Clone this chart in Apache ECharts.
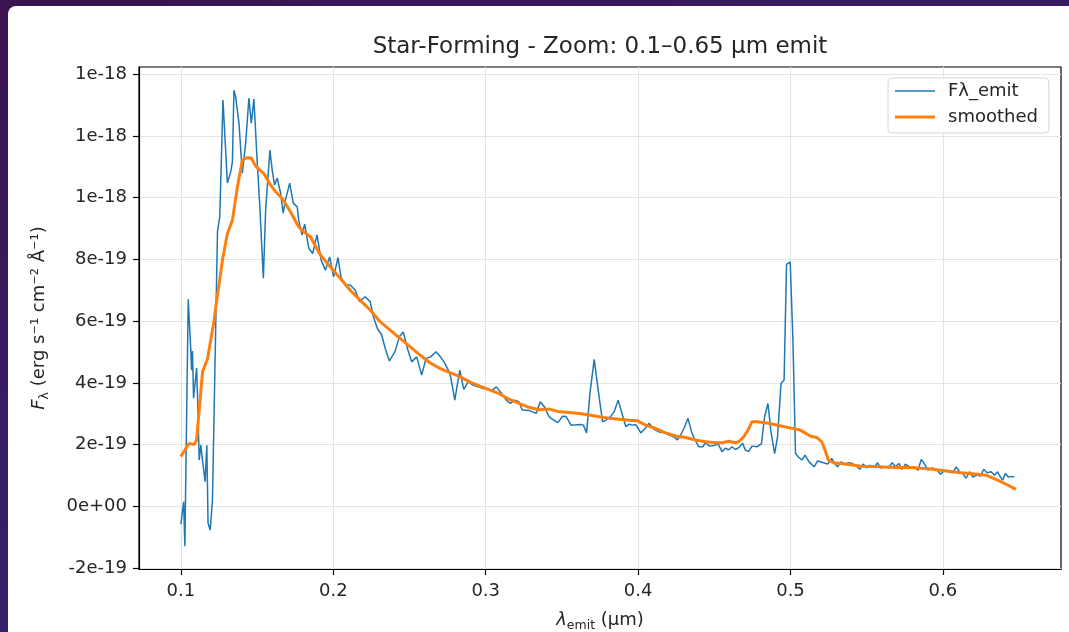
<!DOCTYPE html>
<html>
<head>
<meta charset="utf-8">
<script src="https://cdn.jsdelivr.net/npm/echarts@6/dist/echarts.min.js"></script>
<style>
  html, body { margin: 0; padding: 0; width: 1069px; height: 632px; overflow: hidden; }
  body { background: linear-gradient(160deg, #3b1350 0%, #35206a 55%, #272a70 100%); position: relative; }
  #panel { position: absolute; left: 8px; top: 6px; right: 0; bottom: 0; background: #ffffff; border-top-left-radius: 8px; }
  #chart { position: absolute; left: 0; top: 0; width: 1069px; height: 632px; }
</style>
</head>
<body>
<div id="panel"></div>
<div id="chart"></div>
<script>
// Flux values are in units of 1e-19 erg s^-1 cm^-2 Å^-1
const Y_UNIT = 1e-19;

const lambdaEmit = [
  0.1000, 0.1011, 0.1018, 0.1026, 0.1048, 0.1065, 0.1070, 0.1076, 0.1083, 0.1103,
  0.1109, 0.1120, 0.1131, 0.1142, 0.1159, 0.1170, 0.1178, 0.1192, 0.1207, 0.1240,
  0.1255, 0.1276, 0.1289, 0.1305, 0.1327, 0.1338, 0.1348, 0.1359, 0.1381, 0.1403,
  0.1425, 0.1446, 0.1462, 0.1479, 0.1501, 0.1518, 0.1541, 0.1556, 0.1584, 0.1599,
  0.1614, 0.1632, 0.1654, 0.1671, 0.1686, 0.1714, 0.1737, 0.1763, 0.1773, 0.1795,
  0.1812, 0.1839, 0.1865, 0.1893, 0.1920, 0.1948, 0.1976, 0.2002, 0.2031, 0.2050,
  0.2078, 0.2111, 0.2144, 0.2172, 0.2209, 0.2242, 0.2263, 0.2289, 0.2318, 0.2340,
  0.2368, 0.2405, 0.2433, 0.2459, 0.2486, 0.2514, 0.2547, 0.2580, 0.2608, 0.2639,
  0.2673, 0.2704, 0.2732, 0.2765, 0.2782, 0.2797, 0.2830, 0.2856, 0.2884, 0.2917,
  0.2950, 0.2978, 0.3005, 0.3037, 0.3070, 0.3103, 0.3135, 0.3161, 0.3190, 0.3218,
  0.3240, 0.3288, 0.3331, 0.3358, 0.3386, 0.3414, 0.3429, 0.3473, 0.3505, 0.3527,
  0.3560, 0.3593, 0.3625, 0.3641, 0.3662, 0.3684, 0.3712, 0.3741, 0.3767, 0.3789,
  0.3815, 0.3843, 0.3869, 0.3897, 0.3920, 0.3941, 0.3963, 0.3985, 0.4018, 0.4046,
  0.4072, 0.4105, 0.4137, 0.4170, 0.4203, 0.4235, 0.4257, 0.4279, 0.4301, 0.4327,
  0.4351, 0.4373, 0.4399, 0.4425, 0.4442, 0.4469, 0.4497, 0.4525, 0.4551, 0.4573,
  0.4595, 0.4616, 0.4639, 0.4660, 0.4686, 0.4704, 0.4725, 0.4747, 0.4780, 0.4809,
  0.4830, 0.4852, 0.4872, 0.4896, 0.4915, 0.4938, 0.4958, 0.4974, 0.4998, 0.5016,
  0.5033, 0.5052, 0.5074, 0.5096, 0.5122, 0.5155, 0.5178, 0.5216, 0.5244, 0.5270,
  0.5292, 0.5309, 0.5331, 0.5358, 0.5384, 0.5405, 0.5433, 0.5455, 0.5477, 0.5499,
  0.5521, 0.5549, 0.5571, 0.5593, 0.5619, 0.5645, 0.5667, 0.5689, 0.5711, 0.5732,
  0.5754, 0.5782, 0.5815, 0.5837, 0.5858, 0.5880, 0.5902, 0.5928, 0.5956, 0.5985,
  0.6011, 0.6037, 0.6065, 0.6087, 0.6109, 0.6131, 0.6152, 0.6175, 0.6196, 0.6224,
  0.6246, 0.6268, 0.6290, 0.6316, 0.6338, 0.6359, 0.6377, 0.6392, 0.6410, 0.6429,
  0.6446, 0.6469
];
const fluxEmit = [
  -0.58, -0.60, 0.15, -1.29, 6.71, 5.06, 4.41, 5.03, 3.50, 4.48,
  3.55, 1.50, 1.98, 1.47, 0.80, 1.98, -0.54, -0.77, 0.20, 8.89,
  9.38, 13.16, 13.13, 10.47, 10.84, 11.16, 13.48, 13.27, 12.41, 10.79,
  11.77, 13.22, 12.41, 13.19, 11.12, 9.70, 7.39, 9.60, 11.54, 10.89,
  10.41, 10.63, 10.15, 9.50, 9.92, 10.47, 9.82, 9.70, 9.27, 8.79,
  9.14, 8.36, 8.19, 8.79, 7.98, 7.65, 8.08, 7.43, 8.06, 7.43,
  7.17, 7.17, 7.00, 6.63, 6.79, 6.63, 6.14, 5.76, 5.55, 5.12,
  4.71, 5.01, 5.49, 5.65, 5.12, 4.68, 4.84, 4.25, 4.79, 4.84,
  5.01, 4.84, 4.63, 4.31, 3.87, 3.44, 4.41, 3.79, 4.03, 3.93,
  3.87, 3.82, 3.82, 3.74, 3.87, 3.66, 3.44, 3.33, 3.44, 3.39,
  3.12, 3.10, 3.01, 3.39, 3.22, 2.92, 2.85, 2.71, 2.92, 2.91,
  2.63, 2.64, 2.65, 2.63, 2.38, 3.66, 4.76, 3.66, 2.74, 2.79,
  2.88, 3.06, 3.44, 2.96, 2.58, 2.66, 2.63, 2.65, 2.38, 2.52,
  2.69, 2.49, 2.41, 2.38, 2.31, 2.25, 2.15, 2.31, 2.52, 2.85,
  2.41, 2.15, 1.93, 1.93, 2.06, 1.95, 1.97, 2.02, 1.77, 1.88,
  1.83, 1.93, 1.84, 1.90, 2.04, 1.82, 1.77, 1.95, 1.93, 2.02,
  2.90, 3.33, 2.41, 1.71, 2.25, 3.98, 4.09, 7.84, 7.92, 5.38,
  1.71, 1.60, 1.50, 1.66, 1.44, 1.28, 1.47, 1.41, 1.37, 1.55,
  1.37, 1.28, 1.44, 1.37, 1.41, 1.39, 1.30, 1.20, 1.37, 1.24,
  1.33, 1.26, 1.41, 1.24, 1.28, 1.26, 1.41, 1.28, 1.39, 1.20,
  1.37, 1.28, 1.26, 1.17, 1.52, 1.37, 1.17, 1.24, 1.20, 1.04,
  1.17, 1.12, 1.09, 1.28, 1.12, 1.06, 0.91, 1.12, 0.95, 1.01,
  0.98, 1.20, 1.09, 1.12, 1.01, 1.12, 0.95, 0.85, 1.06, 0.95,
  0.97, 0.95
];

const lambdaSmooth = [
  0.1000, 0.1039, 0.1054, 0.1087, 0.1103, 0.1120, 0.1142, 0.1175, 0.1218, 0.1229,
  0.1273, 0.1305, 0.1338, 0.1371, 0.1403, 0.1431, 0.1462, 0.1490, 0.1544, 0.1588,
  0.1621, 0.1665, 0.1719, 0.1773, 0.1806, 0.1850, 0.1915, 0.1980, 0.2046, 0.2111,
  0.2176, 0.2242, 0.2307, 0.2373, 0.2438, 0.2503, 0.2569, 0.2634, 0.2699, 0.2765,
  0.2830, 0.2895, 0.2961, 0.3026, 0.3092, 0.3157, 0.3222, 0.3288, 0.3353, 0.3418,
  0.3484, 0.3549, 0.3614, 0.3680, 0.3745, 0.3810, 0.3876, 0.3941, 0.3995, 0.4050,
  0.4116, 0.4181, 0.4246, 0.4312, 0.4377, 0.4442, 0.4508, 0.4551, 0.4595, 0.4639,
  0.4660, 0.4693, 0.4721, 0.4747, 0.4780, 0.4856, 0.4922, 0.4987, 0.5063, 0.5096,
  0.5129, 0.5172, 0.5205, 0.5227, 0.5248, 0.5281, 0.5358, 0.5466, 0.5575, 0.5684,
  0.5793, 0.5902, 0.6011, 0.6120, 0.6229, 0.6283, 0.6359, 0.6425, 0.6479
];
const fluxSmooth = [
  1.61, 1.93, 2.04, 2.00, 2.15, 3.12, 4.36, 4.79, 6.03, 6.46,
  7.98, 8.84, 9.27, 10.35, 11.21, 11.29, 11.28, 11.02, 10.78, 10.41,
  10.19, 9.97, 9.54, 9.05, 8.89, 8.73, 8.14, 7.76, 7.38, 7.00,
  6.68, 6.36, 5.98, 5.71, 5.44, 5.17, 4.90, 4.65, 4.47, 4.33,
  4.20, 4.03, 3.89, 3.77, 3.64, 3.46, 3.33, 3.20, 3.13, 3.15,
  3.06, 3.04, 3.01, 2.96, 2.90, 2.85, 2.82, 2.79, 2.77, 2.63,
  2.52, 2.38, 2.28, 2.23, 2.15, 2.09, 2.06, 2.06, 2.11, 2.06,
  2.09, 2.25, 2.47, 2.74, 2.74, 2.69, 2.62, 2.55, 2.47, 2.38,
  2.28, 2.23, 2.09, 1.82, 1.50, 1.41, 1.37, 1.30, 1.28, 1.26,
  1.26, 1.22, 1.15, 1.09, 1.04, 1.01, 0.85, 0.69, 0.55
];

const xTicks = [0.1, 0.2, 0.3, 0.4, 0.5, 0.6];
const yTicks = [-2, 0, 2, 4, 6, 8, 10, 12, 14]; // ×1e-19

const titleText = 'Star-Forming - Zoom: 0.1\u20130.65 \u00b5m emit';
const seriesNames = ['F\u03bb_emit', 'smoothed'];

function fmtSci(v) {
  const real = Math.round(v * 1000) / 1000 * Y_UNIT;
  let s = real.toExponential(0);
  return s.replace(/e([+-])(\d)$/, 'e$10$2');
}

const FONT = 'DejaVu Sans';
const TXT = '#262626';
const FS = 18;

const chart = echarts.init(document.getElementById('chart'), null, { renderer: 'canvas' });
chart.setOption({
  animation: false,
  backgroundColor: 'transparent',
  textStyle: { fontFamily: FONT },
  title: {
    text: titleText,
    left: 600,
    textAlign: 'center',
    top: 36,
    padding: 0,
    textStyle: { fontFamily: FONT, fontSize: 23, fontWeight: 'normal', color: TXT }
  },
  grid: {
    left: 139, right: 8, top: 67, bottom: 63,
    containLabel: false,
    outerBoundsMode: 'none',
    show: true, borderColor: '#000', borderWidth: 1.2, backgroundColor: 'transparent'
  },
  legend: {
    orient: 'vertical',
    left: 888, top: 78,
    padding: [4, 11, 7, 7],
    itemWidth: 40, itemHeight: 20, itemGap: 8,
    symbolKeepAspect: true,
    backgroundColor: 'rgba(255,255,255,0.85)',
    borderColor: '#d5d5d5', borderWidth: 1, borderRadius: 4,
    textStyle: { fontFamily: FONT, fontSize: FS, color: TXT, padding: [0, 0, 0, 8] },
    data: [
      { name: seriesNames[0], icon: 'path://M0,0H40V1.6H0Z' },
      { name: seriesNames[1], icon: 'path://M0,0H40V3.2H0Z' }
    ]
  },
  xAxis: {
    type: 'value',
    min: 0.0725, max: 0.6775,
    name: '{l|\u03bb}{s|emit}{n| (\u00b5m)}',
    nameLocation: 'middle',
    nameGap: 41,
    nameTextStyle: {
      rich: {
        l: { fontFamily: FONT, fontSize: FS, fontStyle: 'italic', color: TXT, lineHeight: 20 },
        s: { fontFamily: FONT, fontSize: 12.5, color: TXT, lineHeight: 12, padding: [12, 0, 0, 0] },
        n: { fontFamily: FONT, fontSize: FS, color: TXT, lineHeight: 20 }
      }
    },
    axisLine: { show: true, onZero: false, lineStyle: { color: '#000', width: 1.2 } },
    axisTick: { show: true, length: 6, lineStyle: { color: '#000', width: 1.2 }, customValues: xTicks },
    axisLabel: {
      customValues: xTicks, margin: 13,
      fontFamily: FONT, fontSize: FS, color: TXT,
      formatter: v => v.toFixed(1)
    },
    splitLine: { show: true, lineStyle: { color: '#e3e3e3', width: 1 } }
  },
  yAxis: {
    type: 'value',
    min: -2.03, max: 14.23,
    name: '{F|F}{s|\u03bb}{n| (erg s\u207b\u00b9 cm\u207b\u00b2 \u00c5\u207b\u00b9)}',
    nameLocation: 'middle',
    nameRotate: 90,
    nameGap: 90,
    nameTextStyle: {
      rich: {
        F: { fontFamily: FONT, fontSize: FS, fontStyle: 'italic', color: TXT, lineHeight: 20 },
        s: { fontFamily: FONT, fontSize: 12.5, color: TXT, lineHeight: 12, padding: [12, 0, 0, 0] },
        n: { fontFamily: FONT, fontSize: FS, color: TXT, lineHeight: 20 }
      }
    },
    axisLine: { show: true, onZero: false, lineStyle: { color: '#000', width: 1.2 } },
    axisTick: { show: true, length: 6, lineStyle: { color: '#000', width: 1.2 }, customValues: yTicks },
    axisLabel: {
      customValues: yTicks, margin: 12,
      fontFamily: FONT, fontSize: FS, color: TXT,
      formatter: v => fmtSci(v)
    },
    splitLine: { show: true, lineStyle: { color: '#e3e3e3', width: 1 } }
  },
  series: [
    {
      name: seriesNames[0],
      type: 'line',
      symbol: 'none',
      data: lambdaEmit.map((x, i) => [x, fluxEmit[i]]),
      lineStyle: { color: '#1f77b4', width: 1.5 },
      itemStyle: { color: '#1f77b4' },
      z: 2
    },
    {
      name: seriesNames[1],
      type: 'line',
      symbol: 'none',
      data: lambdaSmooth.map((x, i) => [x, fluxSmooth[i]]),
      lineStyle: { color: '#ff7f0e', width: 3 },
      itemStyle: { color: '#ff7f0e' },
      z: 3
    }
  ]
});
</script>
</body>
</html>
